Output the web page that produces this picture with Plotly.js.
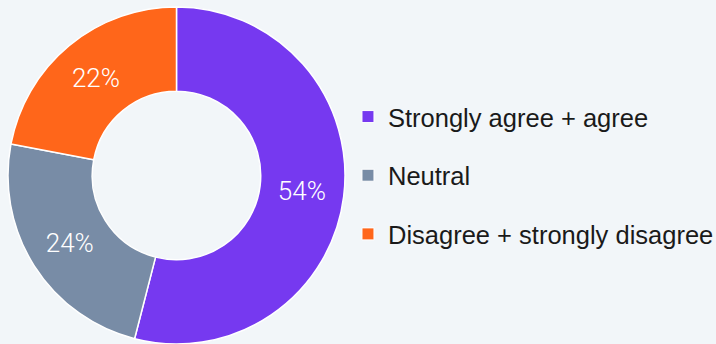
<!DOCTYPE html>
<html>
<head>
<meta charset="utf-8">
<script src="https://cdn.plot.ly/plotly-3.0.1.min.js"></script>
<style>
  html, body { margin: 0; padding: 0; background: #f2f6f9; }
  #chart { width: 716px; height: 344px; }
</style>
</head>
<body>
<div id="chart"></div>
<script>
const labels = ["Strongly agree + agree", "Neutral", "Disagree + strongly disagree"];
const values = [54, 24, 22];
const colors = ["#7639f0", "#788ca6", "#ff661a"];

const FONT = "Liberation Sans, Arial, sans-serif";
const LIGHT_FONT = "Roboto, Liberation Sans, Arial, sans-serif";

const pie = {
  type: "pie",
  labels: labels,
  values: values,
  sort: false,
  direction: "clockwise",
  rotation: 0,
  hole: 0.5,
  marker: { colors: colors, line: { color: "#ffffff", width: 1.5 } },
  textinfo: "percent",
  texttemplate: "%{percent:.0%}",
  textposition: "inside",
  insidetextorientation: "horizontal",
  textfont: { family: LIGHT_FONT, size: 26, weight: 300, color: "#ffffff" },
  showlegend: false,
  hoverinfo: "label+percent",
  domain: { x: [0, 0.493], y: [0, 1] }
};

const legendTraces = labels.map((lab, i) => ({
  type: "scatter",
  mode: "markers",
  x: [null],
  y: [null],
  name: lab,
  legendgroup: "g" + i,
  showlegend: true,
  marker: { symbol: "square", size: 12, color: colors[i], line: { color: "#ffffff", width: 1 } },
  hoverinfo: "skip"
}));

const layout = {
  width: 716,
  height: 344,
  margin: { l: 0, r: 0, t: 7, b: 0, autoexpand: false },
  paper_bgcolor: "#f2f6f9",
  plot_bgcolor: "#f2f6f9",
  xaxis: { visible: false },
  yaxis: { visible: false },
  showlegend: true,
  legend: {
    x: 0.486, xanchor: "left",
    y: 0.5, yanchor: "middle",
    font: { family: FONT, size: 25.5, color: "#1a1a1a" },
    tracegroupgap: 22.5,
    bgcolor: "rgba(0,0,0,0)"
  },
  font: { family: FONT }
};

Plotly.newPlot("chart", [pie].concat(legendTraces), layout, { displayModeBar: false, staticPlot: true });
</script>
</body>
</html>
